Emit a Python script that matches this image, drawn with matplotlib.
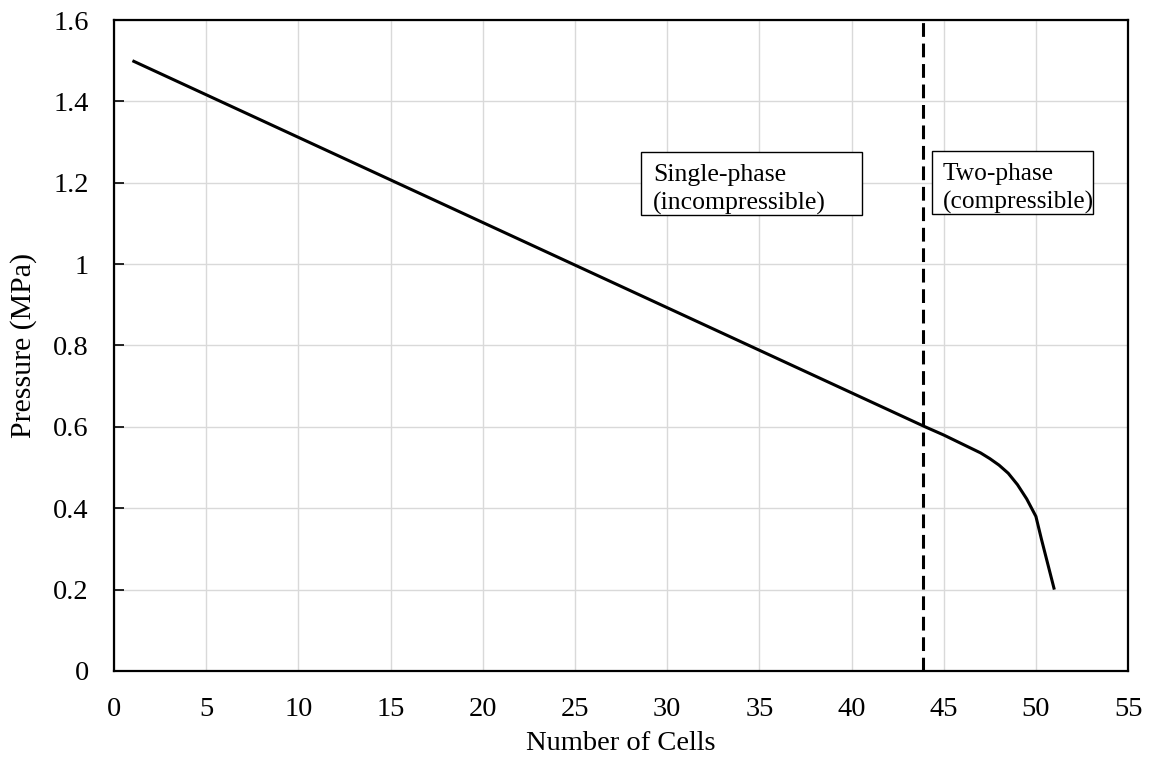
import matplotlib.pyplot as plt
from matplotlib.patches import Rectangle

# pressure along the channel
cells = [1, 44, 45, 45.5, 46, 46.5, 47, 47.5, 48, 48.5, 49, 49.5, 50, 50.3, 51]
pressure = [1.5, 0.6, 0.58, 0.569, 0.558, 0.547, 0.536, 0.522, 0.506, 0.486,
            0.458, 0.423, 0.38, 0.324, 0.2]
boundary = 43.9
xticks = list(range(0, 56, 5))
yticks = [0, 0.2, 0.4, 0.6, 0.8, 1.0, 1.2, 1.4, 1.6]
ytick_labels = ['0', '0.2', '0.4', '0.6', '0.8', '1', '1.2', '1.4', '1.6']
single_label = ['Single-phase', '(incompressible)']
two_label = ['Two-phase', '(compressible)']

plt.rcParams['font.family'] = ['Liberation Serif', 'DejaVu Serif']

fig = plt.figure(figsize=(11.55, 7.58), dpi=100)
ax = fig.add_axes([0.0987, 0.1148, 0.878, 0.8588])

ax.plot(cells, pressure, color='black', lw=2.2, solid_capstyle='butt',
        solid_joinstyle='round', zorder=3)
ax.axvline(boundary, color='black', lw=2.2, dashes=(4.5, 2.2), zorder=3)

ax.set_xlim(0, 55)
ax.set_ylim(0, 1.6)
ax.set_xticks(xticks)
ax.set_yticks(yticks)
ax.set_yticklabels(ytick_labels)
ax.grid(True, color='#d9d9d9', lw=1.0)
ax.set_axisbelow(True)
ax.tick_params(axis='x', length=0, pad=18.5, labelsize=20.5)
ax.tick_params(axis='y', direction='in', length=7, width=1.2, pad=18, labelsize=20.5)
for s in ax.spines.values():
    s.set_color('black')
    s.set_linewidth(1.6)

ax.set_xlabel('Number of Cells', fontsize=20.5, labelpad=7)
ax.set_ylabel('Pressure (MPa)', fontsize=21.5, labelpad=12)

# text boxes (fixed size, like the original text boxes)
ax.add_patch(Rectangle((28.6, 1.12), 11.95, 0.155, facecolor='white',
                       edgecolor='black', lw=1.0, zorder=4))
ax.add_patch(Rectangle((44.36, 1.123), 8.74, 0.155, facecolor='white',
                       edgecolor='black', lw=1.0, zorder=4))
for line, y in zip(single_label, [1.204, 1.133]):
    ax.text(29.23, y, line, fontsize=18.5, va='baseline', ha='left', zorder=5)
for line, y in zip(two_label, [1.207, 1.136]):
    ax.text(44.96, y, line, fontsize=18.3, va='baseline', ha='left', zorder=5)

fig.savefig('out.png', dpi=100)
